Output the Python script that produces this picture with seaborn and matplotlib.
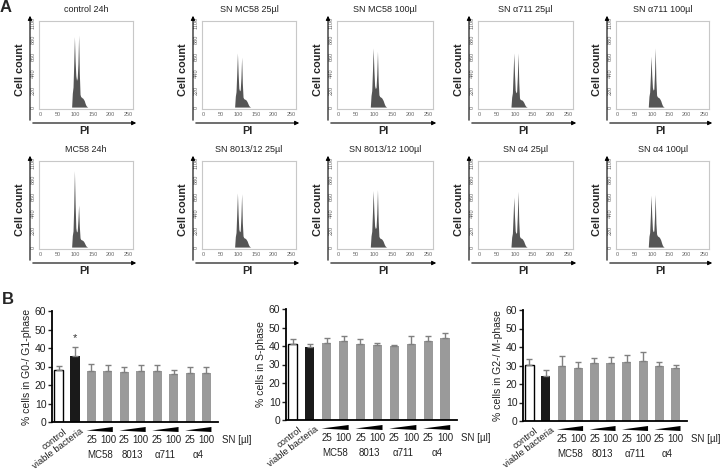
import numpy as np
import matplotlib
matplotlib.use("Agg")
import matplotlib.pyplot as plt
import matplotlib.transforms as mtransforms
import seaborn as sns

W, H = 720, 471

# ---- panel A: PI histograms, counts per 2-unit bin ----
pi_edges = list(range(88, 138, 2))
pi_centers = [e + 1 for e in pi_edges[:-1]]

control_24h = [0, 180, 260, 560, 918, 600, 410, 347, 380, 560, 939, 440, 165, 135, 130, 120, 115, 100, 85, 55, 30, 15, 6, 0]
mc58_24h = [0, 150, 210, 520, 996, 560, 250, 195, 210, 350, 548, 270, 120, 100, 95, 91, 85, 75, 60, 40, 22, 10, 4, 0]
sn_mc58_25 = [0, 140, 200, 430, 706, 440, 245, 211, 225, 380, 651, 310, 130, 110, 105, 100, 95, 82, 66, 44, 24, 11, 4, 0]
sn_mc58_100 = [0, 150, 215, 470, 770, 480, 280, 241, 255, 420, 728, 340, 160, 140, 132, 127, 118, 102, 84, 56, 30, 14, 5, 0]
sn_a711_25 = [0, 130, 185, 430, 706, 430, 220, 186, 200, 400, 706, 320, 120, 100, 96, 93, 88, 76, 62, 41, 22, 10, 4, 0]
sn_a711_100 = [0, 140, 195, 400, 664, 420, 255, 220, 235, 440, 770, 350, 155, 135, 128, 123, 115, 100, 82, 54, 29, 13, 5, 0]
sn_8013_25 = [0, 135, 190, 430, 706, 430, 232, 199, 212, 400, 694, 320, 145, 124, 118, 114, 106, 92, 76, 50, 27, 12, 4, 0]
sn_8013_100 = [0, 145, 205, 450, 736, 460, 276, 241, 255, 430, 749, 340, 140, 120, 114, 110, 103, 90, 74, 48, 26, 12, 4, 0]
sn_a4_25 = [0, 130, 180, 400, 651, 400, 210, 178, 192, 420, 727, 330, 145, 124, 118, 114, 106, 92, 76, 50, 27, 12, 4, 0]
sn_a4_100 = [0, 140, 190, 410, 677, 415, 232, 199, 212, 400, 685, 310, 170, 148, 140, 135, 126, 110, 90, 60, 32, 15, 5, 0]

hist_titles = [["control 24h", "SN MC58 25µl", "SN MC58 100µl", "SN α711 25µl", "SN α711 100µl"],
               ["MC58 24h", "SN 8013/12 25µl", "SN 8013/12 100µl", "SN α4 25µl", "SN α4 100µl"]]
hist_data = [[control_24h, sn_mc58_25, sn_mc58_100, sn_a711_25, sn_a711_100],
             [mc58_24h, sn_8013_25, sn_8013_100, sn_a4_25, sn_a4_100]]
pi_ticks = [0, 50, 100, 150, 200, 250]
count_ticks = [0, 220, 440, 660, 880, 1100]

# ---- panel B: cell cycle phases (mean, upper error) ----
bar_keys = ["control", "viable bacteria", "MC58 25", "MC58 100", "8013 25", "8013 100",
            "α711 25", "α711 100", "α4 25", "α4 100"]
g1_mean = [28.1, 35.8, 27.6, 27.7, 27.0, 27.6, 27.3, 26.2, 26.6, 26.4]
g1_err = [2.0, 4.7, 3.5, 2.9, 2.6, 3.1, 3.5, 1.7, 3.3, 3.3]
s_mean = [40.9, 39.5, 41.8, 42.7, 41.3, 40.7, 40.0, 40.9, 42.7, 44.2]
s_err = [3.1, 1.8, 2.7, 2.8, 2.3, 1.1, 0.7, 4.4, 2.6, 2.7]
g2_mean = [30.5, 24.2, 30.0, 28.5, 31.1, 31.1, 32.0, 32.4, 30.0, 28.7]
g2_err = [3.1, 3.1, 5.1, 3.5, 3.1, 3.6, 3.5, 4.9, 1.8, 1.7]
group_names = ["MC58", "8013", "α711", "α4"]
dose_labels = ["25", "100"]

sns.set_style("white")
plt.rcParams["font.family"] = ["Liberation Sans", "DejaVu Sans"]

fig = plt.figure(figsize=(W / 100, H / 100), dpi=100)


def box(l, t, r, b):
    return [l / W, 1 - b / H, (r - l) / W, (b - t) / H]


def ftext(x, y, s, **kw):
    fig.text(x / W, 1 - y / H, s, **kw)


def farrow(x0, y0, x1, y1):
    fig.add_artist(matplotlib.patches.FancyArrowPatch(
        (x0 / W, 1 - y0 / H), (x1 / W, 1 - y1 / H), transform=fig.transFigure,
        arrowstyle="-|>", mutation_scale=6, lw=0.8, color="black"))


cols = [(39, 133), (202, 296), (337, 433), (478, 573), (616, 709)]
rows = [(21, 109), (161, 249)]

for ri, (t, b) in enumerate(rows):
    for ci, (l, r) in enumerate(cols):
        ax = fig.add_axes(box(l, t, r, b))
        sns.histplot(x=pi_centers, weights=hist_data[ri][ci], bins=pi_edges,
                     element="poly", fill=True, color="#555555", alpha=1,
                     linewidth=0, ax=ax)
        ax.set_xlim(-4, 264)
        ax.set_ylim(-25, 1120)
        ax.set_xlabel("")
        ax.set_ylabel("")
        ax.set_xticks(pi_ticks)
        ax.set_yticks(count_ticks)
        ax.tick_params(labelsize=4, colors="#666666", length=1.5, pad=1, width=0.5)
        for lab in ax.get_yticklabels():
            lab.set_rotation(90)
            lab.set_va("center")
        for sp in ax.spines.values():
            sp.set_color("#c8c8c8")
            sp.set_linewidth(0.8)
        cx = (l + r) / 2
        ftext(cx, t - 11, hist_titles[ri][ci], fontsize=6.5, ha="center", va="center", color="#222222")
        ftext(l - 19, (t + b) / 2 + 5, "Cell count", fontsize=7.8, fontweight="bold",
              rotation=90, ha="center", va="center")
        ftext(cx - 2, b + 22, "PI", fontsize=7.8, fontweight="bold", ha="center", va="center")
        farrow(l - 9, b + 14, l - 9, t - 8)
        farrow(l - 9, b + 14, r + 6, b + 14)

ftext(0, 7, "A", fontsize=12, fontweight="bold", ha="left", va="center")
ftext(2, 299, "B", fontsize=12, fontweight="bold", ha="left", va="center")

bar_colors = ["white", "#1a1a1a"] + ["#9a9a9a"] * 8
charts = [
    (box(52, 311, 218, 422), g1_mean, g1_err, "% cells in G0-/ G1-phase"),
    (box(286, 309, 457, 420), s_mean, s_err, "% cells in S-phase"),
    (box(523, 310, 687, 421), g2_mean, g2_err, "% cells in G2-/ M-phase"),
]

for ki, (rect, means, errs, ylab) in enumerate(charts):
    ax = fig.add_axes(rect)
    sns.barplot(x=bar_keys, y=means, hue=bar_keys, palette=bar_colors, legend=False,
                width=0.55, errorbar=None, linewidth=0, ax=ax)
    for i, p in enumerate(ax.patches):
        if i == 0:
            p.set_edgecolor("black")
            p.set_linewidth(1.0)
    pos = np.arange(len(bar_keys))
    ax.errorbar(pos, means, yerr=[np.zeros(len(errs)), errs], fmt="none",
                ecolor="#808080", elinewidth=1, capsize=2, capthick=1, zorder=5)
    ax.set_xlim(-0.4, 9.7)
    ax.set_ylim(0, 60)
    ax.set_yticks(range(0, 61, 10))
    ax.set_xticks([])
    ax.set_xlabel("")
    ax.set_ylabel(ylab, fontsize=7.5, labelpad=2, color="#222222")
    ax.tick_params(axis="y", labelsize=7.5, length=3, width=1, pad=1, colors="#222222", left=True)
    sns.despine(ax=ax)
    ax.spines["left"].set_linewidth(1.3)
    ax.spines["bottom"].set_linewidth(1.3)
    ax.spines["left"].set_color("black")
    ax.spines["bottom"].set_color("black")

    ax_h = rect[3] * H
    trans = mtransforms.blended_transform_factory(ax.transData, ax.transAxes)
    # rotated labels for control and viable bacteria
    for i in range(2):
        ax.text(pos[i] + 0.3, -5 / ax_h, bar_keys[i], transform=trans, rotation=37,
                rotation_mode="anchor", ha="right", va="top", fontsize=6.8, color="#222222")
    # dose wedges and labels
    for gi, gname in enumerate(group_names):
        x0 = pos[2 + 2 * gi]
        ax.fill([x0 - 0.3, x0 + 1.3, x0 + 1.3], [-8.5 / ax_h, -5 / ax_h, -10 / ax_h],
                transform=trans, color="black", clip_on=False, lw=0)
        for di, dl in enumerate(dose_labels):
            ax.text(x0 + di, -18 / ax_h, dl, transform=trans, ha="center", va="center",
                    fontsize=7, color="#222222")
        ax.text(x0 + 0.5, -33 / ax_h, gname, transform=trans, ha="center", va="center",
                fontsize=7, color="#222222")
    ax.text(9.95, -18 / ax_h, "SN [µl]", transform=trans, ha="left", va="center",
            fontsize=7, color="#222222", clip_on=False)
    if ki == 0:
        ax.text(pos[1], means[1] + errs[1] + 5, "*", ha="center", va="center",
                fontsize=8, color="#333333")

fig.savefig("out.png", dpi=100)
